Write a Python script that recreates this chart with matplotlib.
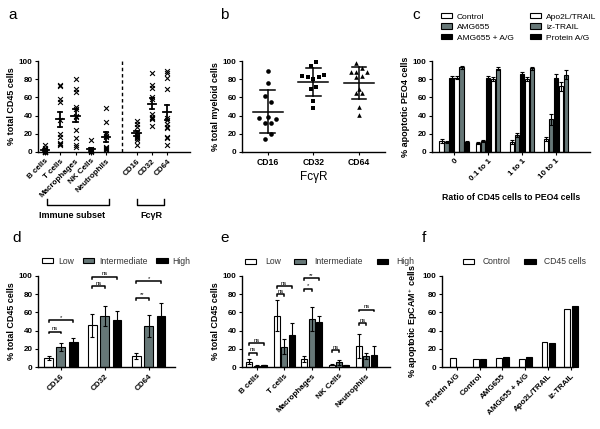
import numpy as np
import matplotlib
matplotlib.use("Agg")
from matplotlib import pyplot as plt
from matplotlib.patches import Patch

plt.rcParams["font.family"] = ["Liberation Sans", "DejaVu Sans"]
plt.rcParams["mathtext.fontset"] = "custom"
plt.rcParams["mathtext.rm"] = "Liberation Sans"
plt.rcParams["mathtext.bf"] = "Liberation Sans:bold"

GREY = "#667777"
TICK_FS = 5.8
LABEL_FS = 6.5

# ---- panel a: immune subsets and FcgR (% total CD45 cells) ----
a_subsets = ["B cells", "T cells", "Macrophages", "NK Cells", "Neutrophils"]
a_receptors = ["CD16", "CD32", "CD64"]
a_b_cells = [8, 4, 3, 2, 1.5, 1, 0.5, 0.5, 0, 0]
a_t_cells = [74, 72, 58, 55, 35, 20, 17, 10, 9, 8]
a_macrophages = [80, 69, 66, 49, 47, 40, 38, 24, 15, 8, 5]
a_nk_cells = [13, 3, 2, 2, 1, 1, 1, 0.5]
a_neutrophils = [48, 33, 20, 18, 16, 5, 4, 3, 2]
a_cd16 = [34, 31, 27, 22, 19, 17, 15, 13, 8]
a_cd32 = [87, 74, 70, 60, 58, 42, 39, 37, 36, 29]
a_cd64 = [89, 87, 81, 69, 37, 35, 31, 28, 26, 17, 15, 8]

# ---- panel b: FcgR on myeloid cells ----
b_receptors = ["CD16", "CD32", "CD64"]
b_cd16 = [89, 76, 61, 55, 37, 38, 36, 31.5, 31.5, 19.5, 14]
b_cd32 = [98.5, 94.5, 84, 82, 80, 82, 85, 69, 71, 56, 48]
b_cd64 = [98, 92.5, 88, 87.5, 87.5, 82, 84, 69, 64.5, 64.5, 50, 41]
# horizontal scatter of the points
b_cd16_jitter = [0, 0, -0.06, 0.07, -0.18, 0, 0.18, -0.06, 0.07, 0.07, -0.06]
b_cd32_jitter = [0.06, -0.06, -0.24, -0.12, 0, 0.12, 0.23, -0.06, 0.06, 0, 0]
b_cd64_jitter = [-0.07, 0.06, 0.17, -0.07, -0.18, -0.07, 0.06, 0, -0.07, 0.06, 0, 0]

# ---- panel c: % apoptotic PEO4 cells ----
c_ratios = ["0", "0.1 to 1", "1 to 1", "10 to 1"]
c_series = ["Control", "AMG655", "AMG655 + A/G", "Apo2L/TRAIL", "iz-TRAIL", "Protein A/G"]
c_values = [
    [12, 10, 11, 14],
    [11, 12, 18.5, 36],
    [81.5, 81.5, 86, 81],
    [81.5, 80, 80, 72],
    [93, 91.5, 92, 85],
    [11, np.nan, np.nan, np.nan],
]
c_errors = [
    [2, 1.5, 2, 2],
    [1.5, 1.5, 2.5, 6],
    [1.5, 1.5, 1.5, 5],
    [1.5, 2, 2, 5],
    [1.5, 1.5, 1.5, 5],
    [1, np.nan, np.nan, np.nan],
]
c_colors = ["white", GREY, "black", "white", GREY, "black"]

# ---- panel d: FcgR by expression level ----
levels = ["Low", "Intermediate", "High"]
level_colors = ["white", GREY, "black"]
d_receptors = ["CD16", "CD32", "CD64"]
d_values = [[10, 46, 12], [22, 56, 45], [28, 52, 56]]
d_errors = [[2.5, 12.5, 3], [4.5, 11, 12.5], [4, 9, 14]]
d_sig = [(0, 0, 1, 39, "ns"), (0, 0, 2, 51.5, "*"), (1, 0, 1, 89, "ns"),
         (1, 0, 2, 99, "ns"), (2, 0, 1, 76, "**"), (2, 0, 2, 94, "*")]

# ---- panel e: immune subsets by expression level ----
e_subsets = ["B cells", "T cells", "Macrophages", "NK Cells", "Neutrophils"]
e_values = [[6, 56.5, 8.5, 2.6, 23], [1.5, 22.5, 52.5, 5, 12], [2.2, 35.5, 49, 1.8, 13.7]]
e_errors = [[2.5, 17, 3.5, 0.6, 13], [0.5, 8, 13, 3, 3.5], [0.5, 12.5, 7, 0.4, 9.5]]
e_sig = [(0, 0, 1, 15.5, "ns"), (0, 0, 2, 26, "ns"), (1, 0, 1, 80, "ns"),
         (1, 0, 2, 89, "ns"), (2, 0, 1, 86, "*"), (2, 0, 2, 97.5, "**"),
         (3, 0, 1, 18.4, "ns"), (4, 0, 1, 48, "ns"), (4, 0, 2, 63, "ns")]

# ---- panel f: % apoptotic EpCAM+ cells ----
f_treatments = ["Protein A/G", "Control", "AMG655", "AMG655 + A/G", "Apo2L/TRAIL", "iz-TRAIL"]
f_control = [10, 8.5, 10, 9, 27.5, 64]
f_cd45 = [np.nan, 8.5, 11, 10.5, 26.5, 66.5]


fig = plt.figure(figsize=(6, 4.29), dpi=100)


def px_axes(x0, y0, x1, y1):
    return fig.add_axes([x0 / 600, 1 - y1 / 429, (x1 - x0) / 600, (y1 - y0) / 429])


def style(ax, ylabel):
    for s in ["top", "right"]:
        ax.spines[s].set_visible(False)
    for s in ["left", "bottom"]:
        ax.spines[s].set_linewidth(1.0)
    ax.set_ylim(0, 100)
    ax.set_yticks([0, 20, 40, 60, 80, 100])
    ax.tick_params(direction="out", length=2.5, width=0.8, labelsize=TICK_FS, pad=1.5)
    for lab in ax.get_yticklabels():
        lab.set_fontweight("bold")
    ax.set_ylabel(ylabel, fontsize=LABEL_FS, fontweight="bold", labelpad=2)


def rotated_labels(ax, ticks, labels):
    ax.set_xticks(ticks)
    ax.set_xticklabels(labels, rotation=45, ha="right", va="top",
                       rotation_mode="anchor", fontweight="bold", fontsize=TICK_FS)


def sig(ax, x1, x2, y, text):
    ax.plot([x1, x1, x2, x2], [y - 2, y, y, y - 2], color="black", lw=1.1, clip_on=False)
    ax.text((x1 + x2) / 2, y + 0.5, text, ha="center", va="bottom", fontsize=4.2)


def mean_bar(ax, x, vals, err, half=0.27, cap=0.14, lw=1.3):
    m = np.mean(vals)
    ax.plot([x - half, x + half], [m, m], color="black", lw=lw, zorder=3)
    ax.plot([x, x], [m - err, m + err], color="black", lw=lw, zorder=3)
    ax.plot([x - cap, x + cap], [m + err, m + err], color="black", lw=lw, zorder=3)
    ax.plot([x - cap, x + cap], [m - err, m - err], color="black", lw=lw, zorder=3)


def letter(x, y, s):
    fig.text(x / 600, 1 - y / 429, s, fontsize=11, ha="left", va="center")


# ---------------- a ----------------
ax = px_axes(38, 61, 190, 152)
a_groups = [a_b_cells, a_t_cells, a_macrophages, a_nk_cells, a_neutrophils,
            a_cd16, a_cd32, a_cd64]
a_pos = [0, 1, 2, 3, 4, 6, 7, 8]
for x, vals in zip(a_pos, a_groups):
    vals = np.array(vals, dtype=float)
    ax.scatter(np.full(len(vals), x), vals, marker="x", s=12, color="black",
               linewidths=0.8, clip_on=False, zorder=2)
    sem = vals.std(ddof=1) / np.sqrt(len(vals))
    mean_bar(ax, x, vals, sem)
ax.axvline(5.05, color="black", lw=1.0, ls=(0, (2.5, 2)))
ax.set_xlim(-0.46, 9.5)
style(ax, "% total CD45 cells")
rotated_labels(ax, a_pos, a_subsets + a_receptors)
tr = ax.get_xaxis_transform()
ax.plot([0.11, 0.11, 4.2, 4.2], [-0.52, -0.58, -0.58, -0.52], color="black",
        lw=1.0, transform=tr, clip_on=False)
ax.plot([6.0, 6.0, 7.8, 7.8], [-0.52, -0.58, -0.58, -0.52], color="black",
        lw=1.0, transform=tr, clip_on=False)
ax.text(1.8, -0.70, "Immune subset", transform=tr, ha="center", va="center",
        fontsize=LABEL_FS, fontweight="bold")
ax.text(7.0, -0.70, "Fc\u03b3R", transform=tr, ha="center", va="center",
        fontsize=LABEL_FS, fontweight="bold")
letter(8, 15, "a")

# ---------------- b ----------------
ax = px_axes(242, 61, 385, 152)
for x, vals, jit, mk in zip(range(3), [b_cd16, b_cd32, b_cd64],
                            [b_cd16_jitter, b_cd32_jitter, b_cd64_jitter],
                            ["o", "s", "^"]):
    vals = np.array(vals, dtype=float)
    ax.scatter(x + np.array(jit), vals, marker=mk, s=11, color="black",
               linewidths=0, clip_on=False, zorder=2)
    mean_bar(ax, x, vals, vals.std(ddof=1), half=0.33, cap=0.16, lw=1.1)
ax.set_xlim(-0.56, 2.57)
style(ax, "% total myeloid cells")
ax.set_xticks(range(3))
ax.set_xticklabels(b_receptors, fontweight="bold", fontsize=TICK_FS + 0.4)
ax.set_xlabel("Fc\u03b3R", fontsize=8.5, labelpad=3)
letter(220, 15, "b")

# ---------------- c ----------------
ax = px_axes(432, 61, 590, 152)
step = 0.147
for i, (vals, errs, col) in enumerate(zip(c_values, c_errors, c_colors)):
    for g in range(len(c_ratios)):
        if np.isnan(vals[g]):
            continue
        n_here = sum(0 if np.isnan(v[g]) else 1 for v in c_values)
        x = g + (i - (n_here - 1) / 2) * step
        ax.bar(x, vals[g], width=0.13, color=col, edgecolor="black", lw=0.8, zorder=2)
        ax.errorbar(x, vals[g], yerr=errs[g], color="black", lw=0.8, capsize=1.2,
                    capthick=0.8, zorder=3)
ax.set_xlim(-0.65, 4.0)
style(ax, "% apoptotic PEO4 cells")
rotated_labels(ax, range(len(c_ratios)), c_ratios)
ax.set_xlabel("Ratio of CD45 cells to PEO4 cells", fontsize=6.3, fontweight="bold",
              labelpad=8)
handles = [Patch(facecolor=c, edgecolor="black", lw=0.8) for c in c_colors]
fig.legend(handles, c_series, ncol=2, loc="upper left", frameon=False,
           bbox_to_anchor=(441 / 600, 1 - 13 / 429), fontsize=6.0,
           handlelength=1.3, handleheight=0.6, labelspacing=0.35,
           columnspacing=2.0, handletextpad=0.6, borderpad=0, borderaxespad=0)
letter(412, 15, "c")


# ---------------- d, e, f (grouped bars with levels) ----------------
def grouped(ax, values, errors, colors, width, offset):
    n = len(values)
    for i, (vals, errs, col) in enumerate(zip(values, errors, colors)):
        for g in range(len(vals)):
            if np.isnan(vals[g]):
                continue
            x = g + (i - (n - 1) / 2) * offset
            ax.bar(x, vals[g], width=width, color=col, edgecolor="black", lw=0.8,
                   zorder=2, clip_on=False)
            if errs is not None:
                ax.errorbar(x, vals[g], yerr=errs[g], color="black", lw=0.8,
                            capsize=1.5, capthick=0.8, zorder=3)


ax = px_axes(38, 276, 175, 367)
grouped(ax, d_values, d_errors, level_colors, 0.2, 0.28)
for g, i, j, y, t in d_sig:
    sig(ax, g + (i - 1) * 0.28, g + (j - 1) * 0.28, y, t)
ax.set_xlim(-0.52, 2.6)
style(ax, "% total CD45 cells")
rotated_labels(ax, range(3), d_receptors)
handles = [Patch(facecolor=c, edgecolor="black", lw=0.8) for c in level_colors]
fig.legend(handles, levels, ncol=3, loc="center left", frameon=False,
           bbox_to_anchor=(42 / 600, 1 - 261 / 429), fontsize=6.2,
           handlelength=1.3, handleheight=0.6, columnspacing=1.0,
           handletextpad=0.6, borderpad=0, borderaxespad=0, labelcolor="#333333")
letter(12, 238, "d")

ax = px_axes(242, 276, 390, 367)
grouped(ax, e_values, e_errors, level_colors, 0.22, 0.27)
for g, i, j, y, t in e_sig:
    sig(ax, g + (i - 1) * 0.27, g + (j - 1) * 0.27, y, t)
ax.set_xlim(-0.54, 4.86)
style(ax, "% total CD45 cells")
rotated_labels(ax, range(5), e_subsets)
fig.legend(handles, levels, ncol=3, loc="center left", frameon=False,
           bbox_to_anchor=(245 / 600, 1 - 262 / 429), fontsize=6.2,
           handlelength=1.3, handleheight=0.6, columnspacing=1.6,
           handletextpad=1.0, borderpad=0, borderaxespad=0, labelcolor="#333333")
letter(220, 238, "e")

ax = px_axes(442, 276, 573, 367)
grouped(ax, [f_control, f_cd45], [None, None], ["white", "black"], 0.26, 0.33)
ax.set_xlim(-0.64, 5.08)
style(ax, "% apoptotic EpCAM$^{+}$ cells")
rotated_labels(ax, range(6), f_treatments)
handles = [Patch(facecolor=c, edgecolor="black", lw=0.8) for c in ["white", "black"]]
fig.legend(handles, ["Control", "CD45 cells"], ncol=2, loc="center left", frameon=False,
           bbox_to_anchor=(463 / 600, 1 - 262 / 429), fontsize=6.2,
           handlelength=1.3, handleheight=0.6, columnspacing=1.6,
           handletextpad=1.0, borderpad=0, borderaxespad=0, labelcolor="#333333")
letter(422, 238, "f")

fig.savefig("out.png", dpi=100)
